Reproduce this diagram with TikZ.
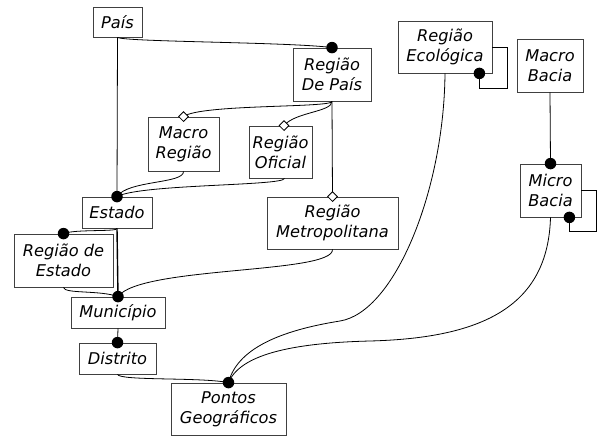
\documentclass[tikz,border=0pt]{standalone}
\usepackage{fontspec}
\setmainfont{DejaVu Sans}
\usetikzlibrary{shapes.geometric}
\tikzset{
  box/.style={draw=black!75, line width=0.8pt, inner sep=0pt, align=center,
    font=\fontsize{16.2}{20}\selectfont\itshape, fill=white},
  dot/.style={circle, fill=black, inner sep=0pt, minimum size=11.5pt},
  dmd/.style={diamond, draw=black, fill=white, inner sep=0pt, minimum width=10pt, minimum height=10pt, line width=0.8pt},
  conn/.style={line width=0.8pt, black},
  thickconn/.style={line width=1.4pt, black}
}
\begin{document}
\begin{tikzpicture}[x=1pt,y=-1pt]
\useasboundingbox (0,0) rectangle (597,436);
% boxes
\node[box, minimum width=49pt, minimum height=30pt] (pais) at (117.5,22) {País};
\node[box, minimum width=78pt, minimum height=53pt] (rdp) at (332,74.5) {Região\\De País};
\node[box, minimum width=71pt, minimum height=54pt] (mr) at (183.5,144) {Macro\\Região};
\node[box, minimum width=63pt, minimum height=52pt] (ro) at (280.5,152) {Região\\Oficial};
\node[box, minimum width=70pt, minimum height=31pt] (est) at (117,212.5) {Estado};
\node[box, minimum width=131pt, minimum height=52pt] (rm) at (332.5,223) {Região\\Metropolitana};
\node[box, minimum width=99pt, minimum height=53pt] (re) at (63.5,260.5) {Região de\\Estado};
\node[box, minimum width=94pt, minimum height=31pt] (mun) at (118,312.5) {Município};
\node[box, minimum width=77pt, minimum height=31pt] (dis) at (117.5,358.5) {Distrito};
\node[box, minimum width=115pt, minimum height=52pt] (pg) at (228.5,409) {Pontos\\Geográficos};
\node[box, minimum width=94pt, minimum height=52pt] (reco) at (445,47) {Região\\Ecológica};
\node[box, minimum width=66pt, minimum height=53pt] (mab) at (550,65.5) {Macro\\Bacia};
\node[box, minimum width=61pt, minimum height=53pt] (mib) at (550.5,190.5) {Micro\\Bacia};
% marker positions
\coordinate (dRDP) at (rdp.north);
\coordinate (dEst) at (est.north);
\coordinate (dMR) at (mr.north);
\coordinate (dRO) at ([xshift=3.5pt]ro.north);
\coordinate (sRO) at ([xshift=4pt]ro.south);
\coordinate (dRM) at (rm.north);
\coordinate (dRE) at (re.north);
\coordinate (dMun) at (mun.north);
\coordinate (dDis) at (dis.north);
\coordinate (dPG) at (pg.north);
\coordinate (dMic) at (mib.north);
\coordinate (dRL) at ([xshift=-13pt]reco.south east);
\coordinate (dML) at ([xshift=-12pt]mib.south east);
% connectors
\draw[conn] (pais.south) .. controls (125,42) and (290,42) .. (dRDP);
\draw[conn] (pais.south) -- (dEst);
\draw[conn] (rdp.south) .. controls (332,108) and (200,104) .. (dMR);
\draw[conn] (rdp.south) .. controls (332,112) and (295,112) .. (dRO);
\draw[conn] (rdp.south) -- (dRM);
\draw[conn] (mr.south) .. controls (184,184) and (128,180) .. (dEst);
\draw[conn] (sRO) .. controls (284,186) and (140,184) .. (dEst);
\draw[conn] (est.south) .. controls (118,232) and (75,229) .. (dRE);
\draw[thickconn] (est.south) -- (dMun);
\draw[conn] (re.south) .. controls (64,294) and (100,290) .. (dMun);
\draw[conn] (rm.south) .. controls (334,274) and (140,266) .. (dMun);
\draw[conn] (mun.south) -- (dDis);
\draw[conn] (dis.south) .. controls (120,381) and (200,377) .. (dPG);
\draw[conn] (reco.south) .. controls (444,190) and (395,312) .. (340,321)
   .. controls (290,329) and (238,345) .. (dPG);
\draw[conn] (mib.south) .. controls (548,305) and (485,338) .. (370,341)
   .. controls (290,343) and (240,355) .. (dPG);
\draw[conn] (mab.south) -- (dMic);
\draw[conn] (reco.east) -- (507,47) -- (507,88) -| (dRL);
\draw[conn] (mib.east) -- (596,190.5) -- (596,231) -| (dML);
% markers
\node[dot] (mRDP) at (dRDP) {};
\node[dot] (mEst) at (dEst) {};
\node[dmd] (mMR) at (dMR) {};
\node[dmd] (mRO) at (dRO) {};
\node[dmd] (mRM) at (dRM) {};
\node[dot] (mRE) at (dRE) {};
\node[dot] (mMun) at (dMun) {};
\node[dot] (mDis) at (dDis) {};
\node[dot] (mPG) at (dPG) {};
\node[dot] (mMic) at (dMic) {};
\node[dot] (mRL) at (dRL) {};
\node[dot] (mML) at (dML) {};
\end{tikzpicture}
\end{document}
